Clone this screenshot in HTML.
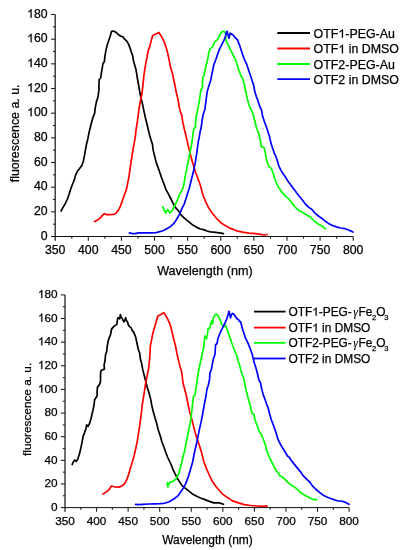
<!DOCTYPE html>
<html><head><meta charset="utf-8"><style>
html,body{margin:0;padding:0;background:#fff;overflow:hidden;}
svg{display:block;will-change:transform;}
text{font-family:"Liberation Sans",sans-serif;fill:#000;stroke:#000;stroke-width:0.25px;}
.one{fill:#000;stroke:#000;stroke-width:0.25px;}
</style></head><body>
<svg width="402" height="550" viewBox="0 0 402 550">
<rect width="402" height="550" fill="#fff"/>
<g font-size="12.3">
<line x1="55.2" y1="14.5" x2="55.2" y2="240.7" stroke="#222" stroke-width="1.3"/>
<line x1="51.0" y1="236.5" x2="353.2" y2="236.5" stroke="#111" stroke-width="1"/>
<text x="55.20" y="253.6" text-anchor="middle">350</text>
<line x1="71.76" y1="236.5" x2="71.76" y2="238.7" stroke="#222" stroke-width="1.1"/>
<line x1="88.31" y1="236.5" x2="88.31" y2="240.7" stroke="#222" stroke-width="1.1"/>
<text x="88.31" y="253.6" text-anchor="middle">400</text>
<line x1="104.87" y1="236.5" x2="104.87" y2="238.7" stroke="#222" stroke-width="1.1"/>
<line x1="121.42" y1="236.5" x2="121.42" y2="240.7" stroke="#222" stroke-width="1.1"/>
<text x="121.42" y="253.6" text-anchor="middle">450</text>
<line x1="137.98" y1="236.5" x2="137.98" y2="238.7" stroke="#222" stroke-width="1.1"/>
<line x1="154.53" y1="236.5" x2="154.53" y2="240.7" stroke="#222" stroke-width="1.1"/>
<text x="154.53" y="253.6" text-anchor="middle">500</text>
<line x1="171.09" y1="236.5" x2="171.09" y2="238.7" stroke="#222" stroke-width="1.1"/>
<line x1="187.64" y1="236.5" x2="187.64" y2="240.7" stroke="#222" stroke-width="1.1"/>
<text x="187.64" y="253.6" text-anchor="middle">550</text>
<line x1="204.20" y1="236.5" x2="204.20" y2="238.7" stroke="#222" stroke-width="1.1"/>
<line x1="220.76" y1="236.5" x2="220.76" y2="240.7" stroke="#222" stroke-width="1.1"/>
<text x="220.76" y="253.6" text-anchor="middle">600</text>
<line x1="237.31" y1="236.5" x2="237.31" y2="238.7" stroke="#222" stroke-width="1.1"/>
<line x1="253.87" y1="236.5" x2="253.87" y2="240.7" stroke="#222" stroke-width="1.1"/>
<text x="253.87" y="253.6" text-anchor="middle">650</text>
<line x1="270.42" y1="236.5" x2="270.42" y2="238.7" stroke="#222" stroke-width="1.1"/>
<line x1="286.98" y1="236.5" x2="286.98" y2="240.7" stroke="#222" stroke-width="1.1"/>
<text x="286.98" y="253.6" text-anchor="middle">700</text>
<line x1="303.53" y1="236.5" x2="303.53" y2="238.7" stroke="#222" stroke-width="1.1"/>
<line x1="320.09" y1="236.5" x2="320.09" y2="240.7" stroke="#222" stroke-width="1.1"/>
<text x="320.09" y="253.6" text-anchor="middle">750</text>
<line x1="336.64" y1="236.5" x2="336.64" y2="238.7" stroke="#222" stroke-width="1.1"/>
<line x1="353.20" y1="236.5" x2="353.20" y2="240.7" stroke="#222" stroke-width="1.1"/>
<text x="353.20" y="253.6" text-anchor="middle">800</text>
<text x="47.6" y="239.70" text-anchor="end">0</text>
<line x1="55.2" y1="224.17" x2="53.0" y2="224.17" stroke="#222" stroke-width="1.1"/>
<line x1="55.2" y1="211.83" x2="51.0" y2="211.83" stroke="#222" stroke-width="1.1"/>
<text x="47.6" y="215.03" text-anchor="end">20</text>
<line x1="55.2" y1="199.50" x2="53.0" y2="199.50" stroke="#222" stroke-width="1.1"/>
<line x1="55.2" y1="187.17" x2="51.0" y2="187.17" stroke="#222" stroke-width="1.1"/>
<text x="47.6" y="190.37" text-anchor="end">40</text>
<line x1="55.2" y1="174.83" x2="53.0" y2="174.83" stroke="#222" stroke-width="1.1"/>
<line x1="55.2" y1="162.50" x2="51.0" y2="162.50" stroke="#222" stroke-width="1.1"/>
<text x="47.6" y="165.70" text-anchor="end">60</text>
<line x1="55.2" y1="150.17" x2="53.0" y2="150.17" stroke="#222" stroke-width="1.1"/>
<line x1="55.2" y1="137.83" x2="51.0" y2="137.83" stroke="#222" stroke-width="1.1"/>
<text x="47.6" y="141.03" text-anchor="end">80</text>
<line x1="55.2" y1="125.50" x2="53.0" y2="125.50" stroke="#222" stroke-width="1.1"/>
<line x1="55.2" y1="113.17" x2="51.0" y2="113.17" stroke="#222" stroke-width="1.1"/>
<text x="47.6" y="116.37" text-anchor="end"> 00</text>
<line x1="55.2" y1="100.83" x2="53.0" y2="100.83" stroke="#222" stroke-width="1.1"/>
<line x1="55.2" y1="88.50" x2="51.0" y2="88.50" stroke="#222" stroke-width="1.1"/>
<text x="47.6" y="91.70" text-anchor="end"> 20</text>
<line x1="55.2" y1="76.17" x2="53.0" y2="76.17" stroke="#222" stroke-width="1.1"/>
<line x1="55.2" y1="63.83" x2="51.0" y2="63.83" stroke="#222" stroke-width="1.1"/>
<text x="47.6" y="67.03" text-anchor="end"> 40</text>
<line x1="55.2" y1="51.50" x2="53.0" y2="51.50" stroke="#222" stroke-width="1.1"/>
<line x1="55.2" y1="39.17" x2="51.0" y2="39.17" stroke="#222" stroke-width="1.1"/>
<text x="47.6" y="42.37" text-anchor="end"> 60</text>
<line x1="55.2" y1="26.83" x2="53.0" y2="26.83" stroke="#222" stroke-width="1.1"/>
<line x1="55.2" y1="14.50" x2="51.0" y2="14.50" stroke="#222" stroke-width="1.1"/>
<text x="47.6" y="17.70" text-anchor="end"> 80</text>
<text x="204.9" y="274.9" text-anchor="middle" font-size="12.6">Wavelength (nm)</text>
<text transform="translate(19.0,133.35) rotate(-90)" x="0" y="0" text-anchor="middle" font-size="12.4">fluorescence a. u.</text>
</g>
<g font-size="11.8">
<line x1="65.0" y1="294.9" x2="65.0" y2="511.8" stroke="#222" stroke-width="1.3"/>
<line x1="60.8" y1="507.6" x2="349.1" y2="507.6" stroke="#111" stroke-width="1"/>
<text x="65.00" y="524.5" text-anchor="middle">350</text>
<line x1="80.78" y1="507.6" x2="80.78" y2="509.8" stroke="#222" stroke-width="1.1"/>
<line x1="96.57" y1="507.6" x2="96.57" y2="511.8" stroke="#222" stroke-width="1.1"/>
<text x="96.57" y="524.5" text-anchor="middle">400</text>
<line x1="112.35" y1="507.6" x2="112.35" y2="509.8" stroke="#222" stroke-width="1.1"/>
<line x1="128.13" y1="507.6" x2="128.13" y2="511.8" stroke="#222" stroke-width="1.1"/>
<text x="128.13" y="524.5" text-anchor="middle">450</text>
<line x1="143.92" y1="507.6" x2="143.92" y2="509.8" stroke="#222" stroke-width="1.1"/>
<line x1="159.70" y1="507.6" x2="159.70" y2="511.8" stroke="#222" stroke-width="1.1"/>
<text x="159.70" y="524.5" text-anchor="middle">500</text>
<line x1="175.48" y1="507.6" x2="175.48" y2="509.8" stroke="#222" stroke-width="1.1"/>
<line x1="191.27" y1="507.6" x2="191.27" y2="511.8" stroke="#222" stroke-width="1.1"/>
<text x="191.27" y="524.5" text-anchor="middle">550</text>
<line x1="207.05" y1="507.6" x2="207.05" y2="509.8" stroke="#222" stroke-width="1.1"/>
<line x1="222.83" y1="507.6" x2="222.83" y2="511.8" stroke="#222" stroke-width="1.1"/>
<text x="222.83" y="524.5" text-anchor="middle">600</text>
<line x1="238.62" y1="507.6" x2="238.62" y2="509.8" stroke="#222" stroke-width="1.1"/>
<line x1="254.40" y1="507.6" x2="254.40" y2="511.8" stroke="#222" stroke-width="1.1"/>
<text x="254.40" y="524.5" text-anchor="middle">650</text>
<line x1="270.18" y1="507.6" x2="270.18" y2="509.8" stroke="#222" stroke-width="1.1"/>
<line x1="285.97" y1="507.6" x2="285.97" y2="511.8" stroke="#222" stroke-width="1.1"/>
<text x="285.97" y="524.5" text-anchor="middle">700</text>
<line x1="301.75" y1="507.6" x2="301.75" y2="509.8" stroke="#222" stroke-width="1.1"/>
<line x1="317.53" y1="507.6" x2="317.53" y2="511.8" stroke="#222" stroke-width="1.1"/>
<text x="317.53" y="524.5" text-anchor="middle">750</text>
<line x1="333.32" y1="507.6" x2="333.32" y2="509.8" stroke="#222" stroke-width="1.1"/>
<line x1="349.10" y1="507.6" x2="349.10" y2="511.8" stroke="#222" stroke-width="1.1"/>
<text x="349.10" y="524.5" text-anchor="middle">800</text>
<text x="57.6" y="510.80" text-anchor="end">0</text>
<line x1="65.0" y1="495.78" x2="62.8" y2="495.78" stroke="#222" stroke-width="1.1"/>
<line x1="65.0" y1="483.97" x2="60.8" y2="483.97" stroke="#222" stroke-width="1.1"/>
<text x="57.6" y="487.17" text-anchor="end">20</text>
<line x1="65.0" y1="472.15" x2="62.8" y2="472.15" stroke="#222" stroke-width="1.1"/>
<line x1="65.0" y1="460.33" x2="60.8" y2="460.33" stroke="#222" stroke-width="1.1"/>
<text x="57.6" y="463.53" text-anchor="end">40</text>
<line x1="65.0" y1="448.52" x2="62.8" y2="448.52" stroke="#222" stroke-width="1.1"/>
<line x1="65.0" y1="436.70" x2="60.8" y2="436.70" stroke="#222" stroke-width="1.1"/>
<text x="57.6" y="439.90" text-anchor="end">60</text>
<line x1="65.0" y1="424.88" x2="62.8" y2="424.88" stroke="#222" stroke-width="1.1"/>
<line x1="65.0" y1="413.07" x2="60.8" y2="413.07" stroke="#222" stroke-width="1.1"/>
<text x="57.6" y="416.27" text-anchor="end">80</text>
<line x1="65.0" y1="401.25" x2="62.8" y2="401.25" stroke="#222" stroke-width="1.1"/>
<line x1="65.0" y1="389.43" x2="60.8" y2="389.43" stroke="#222" stroke-width="1.1"/>
<text x="57.6" y="392.63" text-anchor="end"> 00</text>
<line x1="65.0" y1="377.62" x2="62.8" y2="377.62" stroke="#222" stroke-width="1.1"/>
<line x1="65.0" y1="365.80" x2="60.8" y2="365.80" stroke="#222" stroke-width="1.1"/>
<text x="57.6" y="369.00" text-anchor="end"> 20</text>
<line x1="65.0" y1="353.98" x2="62.8" y2="353.98" stroke="#222" stroke-width="1.1"/>
<line x1="65.0" y1="342.17" x2="60.8" y2="342.17" stroke="#222" stroke-width="1.1"/>
<text x="57.6" y="345.37" text-anchor="end"> 40</text>
<line x1="65.0" y1="330.35" x2="62.8" y2="330.35" stroke="#222" stroke-width="1.1"/>
<line x1="65.0" y1="318.53" x2="60.8" y2="318.53" stroke="#222" stroke-width="1.1"/>
<text x="57.6" y="321.73" text-anchor="end"> 60</text>
<line x1="65.0" y1="306.72" x2="62.8" y2="306.72" stroke="#222" stroke-width="1.1"/>
<line x1="65.0" y1="294.90" x2="60.8" y2="294.90" stroke="#222" stroke-width="1.1"/>
<text x="57.6" y="298.10" text-anchor="end"> 80</text>
<text x="207.5" y="544.2" text-anchor="middle" font-size="11.95">Wavelength (nm)</text>
<text transform="translate(30.6,409.4) rotate(-90)" x="0" y="0" text-anchor="middle" font-size="11.8">fluorescence a. u.</text>
</g>
<path d="M61.1,211.0 L63.2,207.2 L65.4,203.4 L67.2,199.5 L69.2,194.0 L70.7,189.0 L72.6,184.0 L74.4,179.6 L75.6,175.1 L77.4,171.3 L79.6,168.4 L81.9,165.4 L83.4,160.9 L84.6,154.9 L85.6,149.0 L86.5,144.2 L87.8,139.0 L89.0,132.8 L90.1,128.3 L91.6,122.3 L93.1,117.1 L94.6,113.4 L95.3,107.4 L96.5,101.4 L98.0,96.9 L99.0,89.5 L98.9,85.0 L99.2,79.5 L100.7,78.0 L101.4,72.8 L102.2,68.3 L102.9,63.8 L104.4,61.6 L104.9,56.3 L105.9,50.4 L107.4,44.4 L108.9,39.9 L110.4,35.4 L111.6,31.3 L113.4,31.0 L116.3,32.5 L118.6,34.7 L120.8,36.2 L123.1,36.9 L124.6,39.2 L126.8,41.1 L128.3,43.7 L129.8,47.4 L131.3,51.9 L132.8,56.3 L133.5,60.8 L134.8,65.5 L136.0,69.8 L136.8,74.3 L137.5,79.0 L138.6,85.0 L139.6,91.0 L141.1,98.4 L142.6,104.4 L144.1,111.9 L145.4,117.8 L146.9,123.8 L148.3,129.8 L149.8,135.7 L151.2,140.5 L152.5,144.5 L153.2,150.4 L154.7,156.4 L156.2,162.4 L158.4,168.4 L159.9,172.8 L161.4,177.3 L163.7,183.3 L165.9,189.3 L168.1,193.3 L170.5,198.0 L172.6,202.3 L174.6,206.0 L175.8,207.9 L177.7,209.8 L179.2,211.9 L180.8,214.6 L184.6,218.4 L188.3,221.3 L192.8,225.1 L197.2,227.6 L200.5,229.0 L203.5,229.6 L207.0,231.0 L210.4,231.9 L213.9,232.2 L217.4,232.6 L220.9,233.1 L223.5,233.6" fill="none" stroke="#000" stroke-width="1.7" stroke-linejoin="round" stroke-linecap="round"/>
<path d="M94.4,221.7 L97.4,220.1 L100.0,218.3 L102.2,215.6 L104.3,213.7 L106.6,214.6 L110.0,214.7 L113.4,214.5 L116.0,213.3 L118.7,209.7 L120.5,206.1 L121.8,202.3 L123.0,198.7 L124.6,194.5 L126.5,189.1 L129.0,176.3 L130.8,163.6 L132.8,150.9 L134.2,143.0 L135.2,137.8 L136.0,130.0 L137.2,122.8 L138.2,114.9 L139.0,109.0 L140.4,101.0 L141.9,94.0 L142.6,88.0 L143.2,83.0 L143.7,77.2 L144.7,69.8 L145.7,63.8 L146.9,57.8 L148.1,51.1 L149.9,45.9 L151.4,39.9 L152.6,35.7 L155.9,34.0 L158.9,32.5 L160.7,35.4 L162.6,38.4 L164.9,43.7 L166.6,48.9 L168.1,54.9 L169.6,62.3 L170.8,68.3 L172.3,72.8 L173.5,78.7 L174.9,85.0 L176.3,92.5 L178.1,99.9 L179.3,107.4 L180.5,111.9 L181.6,114.9 L182.6,120.8 L184.1,128.3 L185.6,134.3 L187.0,140.1 L188.3,146.0 L189.8,151.9 L191.3,157.9 L193.5,165.4 L195.7,172.8 L198.0,178.8 L200.1,184.5 L201.7,190.4 L203.5,196.5 L206.1,202.6 L208.7,207.9 L212.2,213.1 L216.5,218.3 L220.9,222.7 L225.2,225.6 L230.5,228.4 L236.6,230.8 L242.7,232.2 L248.8,233.1 L255.7,233.6 L260.9,234.3 L264.4,235.0 L267.0,234.5" fill="none" stroke="#f00" stroke-width="1.7" stroke-linejoin="round" stroke-linecap="round"/>
<path d="M162.8,206.9 L164.3,210.5 L165.8,213.2 L167.0,210.5 L167.9,209.6 L168.7,211.1 L169.9,212.9 L171.4,211.7 L172.9,209.3 L174.7,205.7 L176.5,202.2 L178.0,198.5 L179.3,194.8 L181.6,190.7 L183.1,187.8 L184.1,183.3 L185.3,175.8 L186.8,168.4 L188.3,160.9 L189.8,153.4 L191.3,146.0 L192.3,140.0 L192.8,136.0 L193.1,132.8 L194.0,128.3 L195.4,127.5 L195.7,122.3 L196.2,116.3 L197.2,111.9 L198.4,105.9 L199.5,99.9 L200.5,92.5 L201.0,89.5 L202.4,88.0 L202.4,85.0 L202.8,77.2 L204.0,75.7 L205.4,68.3 L206.6,63.8 L207.7,59.3 L208.7,53.4 L209.9,48.9 L212.2,47.4 L213.7,44.4 L215.1,41.4 L217.4,39.9 L218.9,36.9 L220.4,34.0 L221.9,31.7 L224.1,31.3 L225.6,33.2 L225.6,37.7 L226.3,41.4 L228.6,45.9 L230.8,50.4 L233.1,54.9 L234.6,57.8 L236.0,60.8 L236.8,63.8 L238.3,68.3 L239.8,72.8 L241.3,76.5 L242.8,78.7 L244.5,85.0 L245.7,91.0 L246.9,96.9 L248.4,102.9 L249.9,107.4 L252.2,111.9 L253.7,116.3 L255.1,122.3 L256.6,128.3 L258.6,132.8 L259.6,137.2 L260.7,141.7 L261.2,146.5 L264.0,147.5 L265.1,151.9 L266.2,157.9 L267.7,163.9 L269.2,166.9 L271.4,168.4 L272.9,172.8 L274.4,177.3 L276.6,183.3 L278.9,187.8 L281.9,192.2 L285.3,195.8 L288.7,199.0 L292.0,203.1 L295.4,207.4 L298.9,210.5 L302.4,212.3 L305.9,214.4 L309.4,216.5 L312.0,218.7 L314.6,221.3 L318.1,224.0 L321.6,225.7 L323.7,227.4 L325.4,228.7" fill="none" stroke="#0f0" stroke-width="1.7" stroke-linejoin="round" stroke-linecap="round"/>
<path d="M129.4,232.9 L132.5,233.6 L135.0,233.6 L138.7,232.9 L143.7,232.8 L149.9,232.8 L156.1,232.6 L159.8,231.7 L163.6,230.5 L167.3,228.5 L171.0,226.1 L174.1,223.2 L176.5,219.5 L178.9,215.3 L180.7,211.7 L182.0,208.1 L184.2,204.2 L185.5,200.0 L186.6,196.5 L188.0,192.0 L189.2,188.5 L190.5,183.3 L192.0,177.3 L193.5,171.3 L195.0,163.9 L196.5,154.9 L197.5,147.5 L198.2,142.0 L199.0,138.5 L199.9,132.8 L201.0,128.3 L201.7,123.8 L202.5,117.8 L203.5,113.4 L205.0,108.9 L205.5,104.6 L207.1,92.1 L208.2,88.0 L209.2,85.0 L210.7,80.2 L212.2,72.8 L213.7,65.3 L215.9,59.3 L217.4,54.9 L219.6,48.9 L221.9,44.4 L224.1,39.9 L225.6,36.2 L226.3,32.5 L227.1,31.3 L227.8,34.0 L229.0,38.4 L230.1,33.2 L231.6,34.0 L233.5,35.4 L235.3,37.7 L237.5,39.9 L238.6,42.9 L239.8,45.9 L241.3,50.4 L242.8,54.9 L244.3,59.3 L246.5,63.8 L248.0,68.3 L249.5,72.8 L251.0,77.2 L252.5,81.7 L253.6,85.0 L254.7,91.0 L256.2,96.2 L257.7,99.9 L259.6,105.9 L261.6,110.4 L262.6,116.3 L264.1,120.8 L266.3,126.8 L267.8,131.3 L269.3,135.7 L270.2,140.0 L271.4,144.5 L272.9,149.0 L274.4,153.4 L275.9,156.4 L277.4,160.9 L278.9,166.1 L281.1,170.6 L283.4,174.3 L285.6,177.3 L287.8,181.0 L290.1,184.0 L292.3,187.0 L294.9,190.4 L298.5,195.2 L302.0,199.5 L305.0,203.6 L308.5,207.1 L312.0,209.5 L314.6,212.6 L318.1,215.8 L321.6,218.2 L325.0,221.0 L328.5,223.4 L332.0,225.2 L336.4,226.9 L340.7,228.0 L345.1,228.7 L348.6,230.0 L352.9,232.1" fill="none" stroke="#00f" stroke-width="1.7" stroke-linejoin="round" stroke-linecap="round"/>
<path d="M72.2,464.5 L73.2,462.2 L74.7,460.0 L76.2,461.5 L77.7,459.3 L79.2,454.8 L80.7,448.8 L82.2,441.3 L83.2,436.1 L84.4,433.1 L85.9,428.7 L86.6,424.9 L88.1,426.4 L89.6,423.4 L91.1,418.2 L92.0,414.0 L93.0,410.1 L94.1,404.3 L94.6,399.8 L95.6,398.3 L97.1,396.0 L97.1,390.8 L97.5,387.1 L99.3,384.9 L100.5,381.9 L100.5,375.9 L100.8,371.4 L102.0,369.9 L104.4,369.2 L104.1,364.7 L105.0,361.0 L105.5,355.0 L106.7,351.5 L107.2,346.3 L108.2,341.0 L109.1,338.1 L110.6,334.5 L111.2,331.0 L111.7,328.9 L113.4,326.9 L115.4,325.4 L116.9,324.4 L117.7,317.9 L118.9,317.9 L119.7,318.9 L120.4,314.5 L121.1,316.9 L122.4,318.9 L123.9,321.9 L124.9,319.9 L125.7,317.7 L126.4,320.9 L127.4,321.4 L128.4,324.9 L129.9,326.9 L131.3,327.9 L131.8,329.9 L133.8,332.4 L134.8,334.9 L135.8,337.6 L137.0,343.3 L138.3,349.5 L139.7,353.0 L140.4,359.0 L141.6,363.4 L142.7,369.4 L144.2,375.4 L145.7,381.3 L147.2,387.3 L149.1,393.3 L150.8,399.6 L151.7,405.0 L153.2,411.5 L154.9,417.5 L156.6,423.0 L158.1,429.5 L160.0,435.0 L161.9,441.8 L164.2,447.8 L165.7,452.2 L167.5,457.0 L168.7,459.5 L170.9,464.0 L173.1,469.9 L176.1,475.9 L179.1,481.1 L182.1,485.6 L185.8,488.6 L189.6,491.6 L193.3,494.6 L197.8,496.8 L200.5,498.0 L204.4,499.4 L208.7,501.1 L213.9,502.9 L219.2,502.9 L223.5,504.3" fill="none" stroke="#000" stroke-width="1.7" stroke-linejoin="round" stroke-linecap="round"/>
<path d="M102.8,494.1 L106.2,492.0 L109.2,489.6 L111.4,486.0 L114.4,486.8 L118.9,487.1 L121.9,486.0 L124.9,483.4 L127.1,478.9 L129.0,472.9 L130.8,466.9 L132.6,461.0 L134.2,455.4 L135.8,448.3 L137.3,440.8 L138.5,433.4 L139.6,425.9 L140.6,418.4 L141.6,411.0 L142.2,405.0 L143.4,397.8 L144.6,390.3 L145.7,382.8 L147.2,375.4 L148.7,367.9 L149.7,358.0 L150.4,345.7 L151.6,339.8 L152.7,333.8 L153.7,330.1 L154.9,326.3 L156.4,321.1 L157.9,315.9 L160.9,314.4 L163.9,312.6 L165.4,315.1 L167.6,318.9 L169.9,324.1 L171.3,328.6 L172.8,335.3 L174.3,341.3 L175.8,347.2 L176.8,353.0 L177.5,356.0 L178.5,360.4 L180.0,366.4 L181.5,371.0 L182.5,378.4 L183.0,383.0 L184.5,388.5 L186.0,394.3 L187.2,400.0 L188.4,406.0 L189.7,411.9 L191.5,417.9 L193.3,425.4 L194.8,431.3 L196.6,437.3 L198.1,441.8 L199.6,446.3 L201.5,452.2 L202.8,457.5 L204.0,462.0 L206.8,469.4 L209.3,475.0 L212.2,481.1 L216.5,487.2 L221.8,493.3 L227.0,497.3 L232.2,500.6 L238.3,502.9 L244.4,504.6 L250.5,505.5 L257.5,506.0 L263.6,506.4 L267.0,505.8" fill="none" stroke="#f00" stroke-width="1.7" stroke-linejoin="round" stroke-linecap="round"/>
<path d="M167.2,482.6 L167.9,487.1 L169.4,482.6 L171.6,481.9 L173.9,480.7 L176.1,478.9 L178.4,474.4 L180.6,466.9 L182.1,461.0 L183.4,455.0 L184.3,452.2 L185.8,444.8 L187.3,437.3 L188.8,429.9 L190.0,423.9 L191.0,417.9 L191.9,410.0 L192.7,403.0 L193.4,396.8 L195.2,394.6 L196.1,387.8 L197.2,380.4 L198.2,372.9 L199.4,366.9 L200.8,360.5 L202.2,354.0 L203.7,347.8 L204.4,340.3 L205.1,335.8 L206.6,338.8 L207.4,334.3 L208.1,328.4 L209.6,328.4 L210.7,323.9 L211.9,320.9 L212.6,323.9 L213.4,317.9 L214.9,314.9 L216.3,314.2 L218.1,315.7 L219.6,318.7 L220.8,321.6 L221.6,324.6 L223.5,326.1 L225.3,325.4 L226.8,328.4 L228.3,332.8 L229.8,337.3 L231.6,342.5 L233.5,347.8 L235.0,351.8 L236.8,355.5 L237.8,360.2 L239.5,364.8 L241.0,370.7 L242.3,375.0 L243.7,378.0 L244.5,382.5 L245.7,388.4 L247.2,394.4 L248.7,400.4 L250.4,406.3 L252.2,413.8 L254.2,414.6 L254.9,419.8 L256.7,424.3 L258.2,428.7 L259.5,432.0 L261.0,433.7 L263.2,439.0 L265.4,444.9 L266.9,450.9 L269.2,456.9 L271.4,461.3 L273.7,465.8 L275.9,470.3 L278.1,472.5 L279.6,475.5 L282.0,476.6 L285.2,479.6 L288.3,482.9 L290.9,484.8 L293.9,486.8 L296.9,488.8 L301.3,493.1 L305.7,495.7 L310.0,498.0 L312.2,499.1 L314.5,499.6 L316.7,499.6" fill="none" stroke="#0f0" stroke-width="1.7" stroke-linejoin="round" stroke-linecap="round"/>
<path d="M135.6,504.3 L138.3,504.7 L142.8,504.3 L148.7,504.0 L155.0,503.8 L160.0,503.7 L163.4,503.5 L168.7,502.0 L173.9,499.0 L178.4,495.3 L182.1,490.1 L185.5,484.1 L188.1,477.4 L190.3,469.9 L192.5,462.5 L193.8,456.0 L194.5,452.2 L196.3,444.8 L197.8,437.3 L199.3,429.9 L201.0,422.4 L202.5,414.9 L203.8,407.5 L204.6,402.8 L205.2,400.0 L206.1,395.3 L206.9,389.3 L208.4,384.9 L209.6,378.9 L209.9,372.9 L211.3,369.9 L212.1,365.4 L213.2,359.6 L215.0,354.3 L215.6,344.8 L217.1,343.3 L217.8,338.8 L219.6,334.3 L220.8,331.3 L222.3,328.4 L223.8,325.4 L225.3,322.4 L226.8,318.7 L228.0,314.9 L229.0,311.2 L229.8,314.9 L230.5,317.9 L231.6,314.2 L232.8,313.4 L235.0,315.7 L236.9,318.7 L238.4,319.4 L239.5,321.5 L240.5,321.6 L241.3,324.5 L242.5,329.0 L244.0,333.4 L245.4,337.9 L247.7,342.4 L249.2,346.1 L250.7,349.9 L252.2,354.3 L253.2,358.8 L254.4,363.3 L255.9,367.8 L257.1,372.2 L258.0,376.0 L258.8,379.7 L260.6,383.2 L261.6,388.4 L263.1,394.4 L265.1,399.6 L266.9,404.9 L268.1,407.8 L269.6,413.8 L271.3,419.8 L273.6,425.7 L275.3,430.5 L276.6,434.5 L278.1,439.7 L280.4,444.2 L282.6,447.9 L284.0,450.0 L285.5,452.5 L287.5,456.0 L289.5,457.5 L290.9,460.0 L292.4,461.9 L294.4,464.4 L296.4,466.9 L298.9,469.9 L300.9,472.4 L302.9,475.4 L305.4,477.9 L307.9,480.3 L310.0,482.3 L312.2,485.6 L315.6,489.0 L319.5,492.4 L323.4,495.2 L327.4,497.2 L331.3,498.7 L334.6,499.9 L338.0,501.0 L341.4,501.0 L344.7,502.1 L347.0,503.2 L349.0,504.3" fill="none" stroke="#00f" stroke-width="1.7" stroke-linejoin="round" stroke-linecap="round"/>
<g font-size="12.4">
<line x1="277.3" y1="33.0" x2="310.0" y2="33.0" stroke="#000" stroke-width="1.8"/>
<text x="313.6" y="37.8">OTF -PEG-Au</text>
<line x1="277.3" y1="48.5" x2="310.0" y2="48.5" stroke="#f00" stroke-width="1.8"/>
<text x="313.6" y="53.3">OTF  in DMSO</text>
<line x1="277.3" y1="64.0" x2="310.0" y2="64.0" stroke="#0f0" stroke-width="1.8"/>
<text x="313.6" y="68.8">OTF2-PEG-Au</text>
<line x1="277.3" y1="79.2" x2="310.0" y2="79.2" stroke="#00f" stroke-width="1.8"/>
<text x="313.6" y="84.0">OTF2 in DMSO</text>
</g>
<g font-size="11.9">
<line x1="254.0" y1="311.6" x2="285.6" y2="311.6" stroke="#000" stroke-width="1.8"/>
<text x="288.4" y="315.8">OTF -PEG-<tspan dx="1.4" font-family="Liberation Serif, serif" font-style="italic" stroke-width="0.1">γ</tspan><tspan dx="0.7">Fe</tspan><tspan font-size="7.6" dx="-0.5" dy="4.3">2</tspan><tspan dy="-4.3">O</tspan><tspan font-size="7.6" dx="-1.2" dy="4.3">3</tspan></text>
<line x1="254.0" y1="327.6" x2="285.6" y2="327.6" stroke="#f00" stroke-width="1.8"/>
<text x="288.4" y="331.8">OTF  in DMSO</text>
<line x1="254.0" y1="342.8" x2="285.6" y2="342.8" stroke="#0f0" stroke-width="1.8"/>
<text x="288.4" y="347.0">OTF2-PEG-<tspan dx="1.4" font-family="Liberation Serif, serif" font-style="italic" stroke-width="0.1">γ</tspan><tspan dx="0.7">Fe</tspan><tspan font-size="7.6" dx="-0.5" dy="4.3">2</tspan><tspan dy="-4.3">O</tspan><tspan font-size="7.6" dx="-1.2" dy="4.3">3</tspan></text>
<line x1="254.0" y1="358.5" x2="285.6" y2="358.5" stroke="#00f" stroke-width="1.8"/>
<text x="288.4" y="362.7">OTF2 in DMSO</text>
</g>
<path class="one" vector-effect="non-scaling-stroke" transform="translate(27.07,116.37) scale(0.006006,-0.005796)" d="M763 0H583V1147Q518 1085 412.5 1023T223 930V1104Q374 1175 487 1276T647 1472H763V0Z"/>
<path class="one" vector-effect="non-scaling-stroke" transform="translate(27.07,91.70) scale(0.006006,-0.005796)" d="M763 0H583V1147Q518 1085 412.5 1023T223 930V1104Q374 1175 487 1276T647 1472H763V0Z"/>
<path class="one" vector-effect="non-scaling-stroke" transform="translate(27.07,67.03) scale(0.006006,-0.005796)" d="M763 0H583V1147Q518 1085 412.5 1023T223 930V1104Q374 1175 487 1276T647 1472H763V0Z"/>
<path class="one" vector-effect="non-scaling-stroke" transform="translate(27.07,42.37) scale(0.006006,-0.005796)" d="M763 0H583V1147Q518 1085 412.5 1023T223 930V1104Q374 1175 487 1276T647 1472H763V0Z"/>
<path class="one" vector-effect="non-scaling-stroke" transform="translate(27.07,17.70) scale(0.006006,-0.005796)" d="M763 0H583V1147Q518 1085 412.5 1023T223 930V1104Q374 1175 487 1276T647 1472H763V0Z"/>
<path class="one" vector-effect="non-scaling-stroke" transform="translate(37.91,392.63) scale(0.005762,-0.005560)" d="M763 0H583V1147Q518 1085 412.5 1023T223 930V1104Q374 1175 487 1276T647 1472H763V0Z"/>
<path class="one" vector-effect="non-scaling-stroke" transform="translate(37.91,369.00) scale(0.005762,-0.005560)" d="M763 0H583V1147Q518 1085 412.5 1023T223 930V1104Q374 1175 487 1276T647 1472H763V0Z"/>
<path class="one" vector-effect="non-scaling-stroke" transform="translate(37.91,345.37) scale(0.005762,-0.005560)" d="M763 0H583V1147Q518 1085 412.5 1023T223 930V1104Q374 1175 487 1276T647 1472H763V0Z"/>
<path class="one" vector-effect="non-scaling-stroke" transform="translate(37.91,321.73) scale(0.005762,-0.005560)" d="M763 0H583V1147Q518 1085 412.5 1023T223 930V1104Q374 1175 487 1276T647 1472H763V0Z"/>
<path class="one" vector-effect="non-scaling-stroke" transform="translate(37.91,298.10) scale(0.005762,-0.005560)" d="M763 0H583V1147Q518 1085 412.5 1023T223 930V1104Q374 1175 487 1276T647 1472H763V0Z"/>
<path class="one" vector-effect="non-scaling-stroke" transform="translate(338.37,37.80) scale(0.006055,-0.005843)" d="M763 0H583V1147Q518 1085 412.5 1023T223 930V1104Q374 1175 487 1276T647 1472H763V0Z"/>
<path class="one" vector-effect="non-scaling-stroke" transform="translate(338.37,53.30) scale(0.006055,-0.005843)" d="M763 0H583V1147Q518 1085 412.5 1023T223 930V1104Q374 1175 487 1276T647 1472H763V0Z"/>
<path class="one" vector-effect="non-scaling-stroke" transform="translate(312.17,315.80) scale(0.005811,-0.005607)" d="M763 0H583V1147Q518 1085 412.5 1023T223 930V1104Q374 1175 487 1276T647 1472H763V0Z"/>
<path class="one" vector-effect="non-scaling-stroke" transform="translate(312.17,331.80) scale(0.005811,-0.005607)" d="M763 0H583V1147Q518 1085 412.5 1023T223 930V1104Q374 1175 487 1276T647 1472H763V0Z"/>
</svg>
</body></html>
